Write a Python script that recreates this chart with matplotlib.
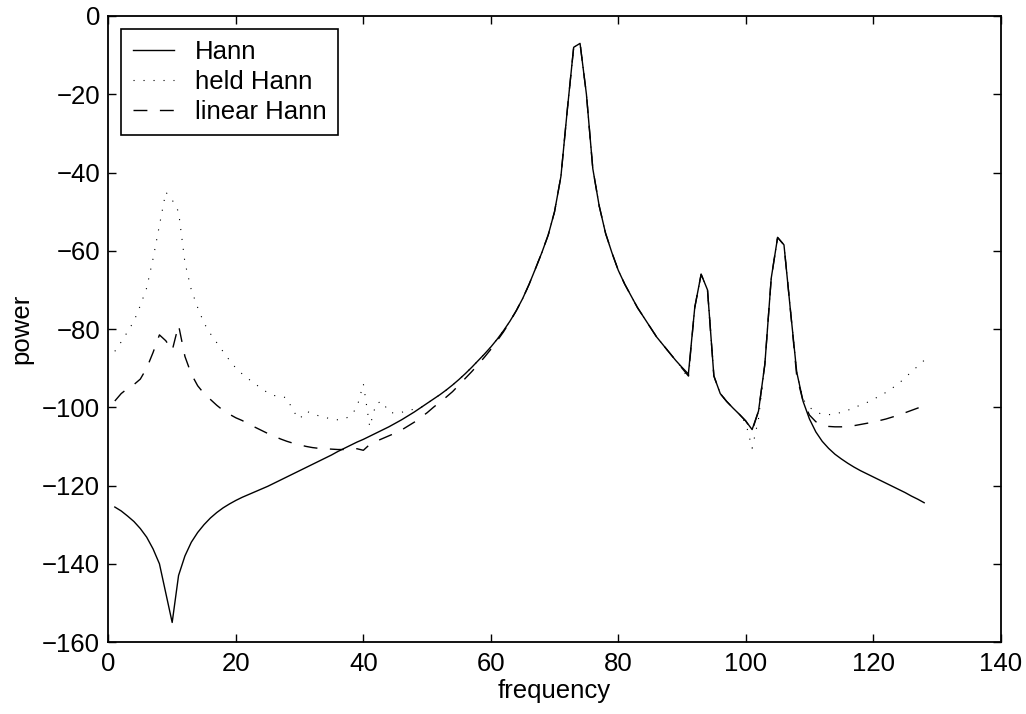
import matplotlib.pyplot as plt
import numpy as np

plt.rcParams["font.family"] = ["Liberation Sans", "DejaVu Sans"]

freq = np.arange(1, 129)

hann = [
    -125.5, -126.5, -127.8, -129.2, -131.0, -133.2, -136.2, -140.0, -147.5, -155.0,
    -143.0, -138.0, -134.5, -132.0, -130.0, -128.3, -126.9, -125.7, -124.7, -123.8,
    -123.0, -122.3, -121.6, -120.9, -120.2, -119.4, -118.6, -117.8, -117.0, -116.2,
    -115.4, -114.6, -113.8, -113.0, -112.2, -111.3, -110.5, -109.7, -108.9, -108.2,
    -107.4, -106.6, -105.8, -105.0, -104.1, -103.2, -102.2, -101.2, -100.1, -99.0,
    -97.9, -96.8, -95.6, -94.3, -92.9, -91.4, -89.8, -88.1, -86.4, -84.6,
    -82.6, -80.4, -78.0, -75.3, -72.2, -68.6, -64.6, -60.5, -56.0, -50.0,
    -41.0, -24.0, -8.0, -7.0, -20.0, -39.0, -48.5, -55.5, -60.5, -65.0,
    -68.5, -71.5, -74.5, -77.0, -79.5, -82.0, -84.0, -86.0, -88.0, -89.8,
    -91.5, -74.5, -66.0, -70.0, -92.0, -96.5, -98.5, -100.2, -101.8, -103.5,
    -105.7, -101.0, -89.0, -67.0, -56.6, -58.5, -75.0, -91.0, -98.5, -103.0,
    -106.3, -108.7, -110.5, -112.0, -113.2, -114.3, -115.3, -116.2, -117.0, -117.8,
    -118.6, -119.4, -120.2, -121.0, -121.8, -122.7, -123.5, -124.4,
]

held_hann = [
    -85.7, -83.3, -80.7, -78.0, -74.0, -69.5, -62.0, -53.5, -45.0, -47.0,
    -50.0, -63.0, -70.0, -74.5, -78.5, -81.2, -83.5, -85.8, -88.0, -90.0,
    -91.5, -92.8, -94.0, -95.2, -96.3, -97.0, -97.2, -97.6, -101.0, -103.0,
    -101.0, -101.6, -102.2, -102.6, -103.0, -103.2, -103.0, -102.2, -100.0, -94.0,
    -105.0, -99.0, -98.5, -101.3, -101.5, -101.3, -100.8, -100.5, -100.1, -99.0,
    -97.9, -96.8, -95.6, -94.3, -92.9, -91.4, -89.8, -88.1, -86.4, -84.6,
    -82.6, -80.4, -78.0, -75.3, -72.2, -68.6, -64.6, -60.5, -56.0, -50.0,
    -41.0, -24.0, -8.0, -7.0, -20.0, -39.0, -48.5, -55.5, -60.5, -65.0,
    -68.5, -71.5, -74.5, -77.0, -79.5, -82.0, -84.0, -86.0, -88.0, -90.0,
    -92.8, -74.5, -66.0, -70.0, -92.0, -96.5, -98.5, -100.2, -101.8, -104.0,
    -110.5, -103.0, -89.0, -67.0, -56.6, -58.5, -75.0, -91.0, -98.0, -100.0,
    -101.2, -101.8, -101.9, -101.7, -101.3, -100.8, -100.0, -99.5, -98.8, -98.0,
    -97.1, -96.2, -95.1, -93.9, -92.5, -90.9, -89.5, -88.0,
]

linear_hann = [
    -98.4, -96.5, -95.2, -94.2, -92.8, -90.0, -86.0, -81.5, -83.0, -85.5,
    -79.0, -87.0, -91.5, -94.5, -96.5, -98.0, -99.5, -100.8, -101.8, -102.7,
    -103.4, -104.3, -105.1, -105.9, -106.7, -107.4, -108.1, -108.7, -109.2, -109.6,
    -110.0, -110.3, -110.5, -110.6, -110.7, -110.8, -110.8, -110.7, -110.6, -111.0,
    -109.5, -108.7, -108.0, -107.3, -106.6, -105.8, -104.8, -103.8, -102.6, -101.4,
    -100.0, -98.7, -97.4, -96.0, -94.3, -92.6, -90.9, -89.1, -87.2, -85.2,
    -83.0, -80.7, -78.1, -75.3, -72.2, -68.6, -64.6, -60.5, -56.0, -50.0,
    -41.0, -24.0, -8.0, -7.0, -20.0, -39.0, -48.5, -55.5, -60.5, -65.0,
    -68.5, -71.5, -74.5, -77.0, -79.5, -82.0, -84.0, -86.0, -88.0, -90.0,
    -92.0, -74.5, -66.0, -70.0, -92.0, -96.5, -98.5, -100.2, -101.8, -103.5,
    -106.0, -101.0, -89.0, -67.0, -56.6, -58.5, -75.0, -92.0, -98.5, -102.0,
    -103.7, -104.5, -104.9, -105.0, -105.0, -104.9, -104.7, -104.4, -104.1, -103.8,
    -103.4, -103.0, -102.5, -102.0, -101.4, -100.8, -100.2, -99.6,
]

fig = plt.figure(figsize=(10.26, 7.14), dpi=100)
ax = fig.add_axes([0.1057, 0.1008, 0.8696, 0.8768])

ax.plot(freq, hann, color="black", linewidth=1.0, label="Hann")
ax.plot(freq, held_hann, color="black", linewidth=0.8,
        linestyle=(0, (1, 8)), label="held Hann")
ax.plot(freq, linear_hann, color="black", linewidth=1.0,
        linestyle=(0, (10, 9)), label="linear Hann")

ax.set_xlim(0, 140)
ax.set_ylim(-160, 0)
ax.set_xticks(range(0, 141, 20))
ax.set_yticks(range(-160, 1, 20))
ax.tick_params(direction="in", top=True, right=True, length=6, width=1.0,
               labelsize=18.5)
ax.tick_params(axis="x", pad=7)
ax.tick_params(axis="y", pad=6)
for spine in ax.spines.values():
    spine.set_linewidth(1.3)

ax.set_xlabel("frequency", fontsize=18.5, labelpad=2)
ax.set_ylabel("power", fontsize=18.5, labelpad=6)

leg = ax.legend(loc="upper left", fontsize=18.5, frameon=True, fancybox=False,
                edgecolor="black", framealpha=1, handlelength=1.6,
                handletextpad=0.8, borderpad=0.45, labelspacing=0.22,
                borderaxespad=0.5)
leg.get_frame().set_linewidth(1.2)

fig.savefig("out.png", dpi=100)
